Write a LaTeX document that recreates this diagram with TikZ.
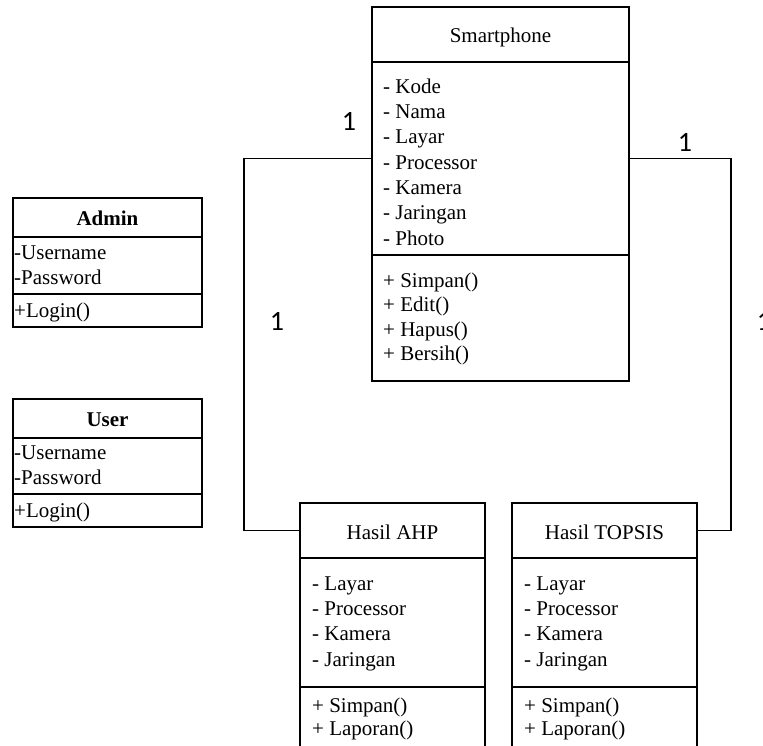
\documentclass[tikz,border=0pt]{standalone}
\usepackage{fontspec}
\setmainfont{Liberation Serif}
\newfontfamily\numfont{Carlito}
\begin{document}
\begin{tikzpicture}[x=1pt,y=-1pt,
  compart/.style={draw, line width=1.5pt, inner sep=0pt, outer sep=0pt, anchor=north west},
  % multi-line lists are placed by the baseline of their last line
  txt/.style={font=\fontsize{21}{25.3}\selectfont, anchor=base west, inner sep=0pt, align=left},
  ttl/.style={font=\fontsize{21}{25}\selectfont, anchor=base, inner sep=0pt},
  mult/.style={font=\numfont\fontsize{28}{30}\selectfont, inner sep=0pt},
  link/.style={draw, line width=1.5pt}]
\useasboundingbox (0,0) rectangle (763,745);
\clip (0,0) rectangle (763,745);

% Admin class
\node[compart, minimum width=189, minimum height=39] (adH) at (13,198) {};
\node[compart, minimum width=189, minimum height=57] (adA) at (13,237) {};
\node[compart, minimum width=189, minimum height=33] (adM) at (13,294) {};
\node[ttl, font=\fontsize{21}{25}\selectfont\bfseries] (adT) at (107.5,225) {Admin};
\node[txt, font=\fontsize{21}{25}\selectfont] (adAt) at (14,284) {-Username\\-Password};
\node[txt] (adMt) at (14,317) {+Login()};

% User class
\node[compart, minimum width=189, minimum height=39] (usH) at (13,399) {};
\node[compart, minimum width=189, minimum height=56] (usA) at (13,438) {};
\node[compart, minimum width=189, minimum height=33] (usM) at (13,494) {};
\node[ttl, font=\fontsize{21}{25}\selectfont\bfseries] (usT) at (107.5,426) {User};
\node[txt, font=\fontsize{21}{25}\selectfont] (usAt) at (14,484) {-Username\\-Password};
\node[txt] (usMt) at (14,517) {+Login()};

% Smartphone class
\node[compart, minimum width=257, minimum height=55] (spH) at (372,7) {};
\node[compart, minimum width=257, minimum height=193] (spA) at (372,62) {};
\node[compart, minimum width=257, minimum height=126] (spM) at (372,255) {};
\node[ttl] (spT) at (500.5,42) {Smartphone};
\node[txt] (spAt) at (383,245) {- Kode\\- Nama\\- Layar\\- Processor\\- Kamera\\- Jaringan\\- Photo};
\node[txt, font=\fontsize{21}{24.5}\selectfont] (spMt) at (383,360.5) {+ Simpan()\\+ Edit()\\+ Hapus()\\+ Bersih()};

% Hasil AHP class
\node[compart, minimum width=185, minimum height=55] (ahH) at (300,503) {};
\node[compart, minimum width=185, minimum height=129] (ahA) at (300,558) {};
\node[compart, minimum width=185, minimum height=80] (ahM) at (300,687) {};
\node[ttl] (ahT) at (392.5,539) {Hasil AHP};
\node[txt] (ahAt) at (312,666) {- Layar\\- Processor\\- Kamera\\- Jaringan};
\node[txt, font=\fontsize{21}{23.5}\selectfont] (ahMt) at (312,735.5) {+ Simpan()\\+ Laporan()};

% Hasil TOPSIS class
\node[compart, minimum width=185, minimum height=55] (toH) at (512,503) {};
\node[compart, minimum width=185, minimum height=129] (toA) at (512,558) {};
\node[compart, minimum width=185, minimum height=80] (toM) at (512,687) {};
\node[ttl] (toT) at (604.5,539) {Hasil TOPSIS};
\node[txt] (toAt) at (524,666) {- Layar\\- Processor\\- Kamera\\- Jaringan};
\node[txt, font=\fontsize{21}{23.5}\selectfont] (toMt) at (524,735.5) {+ Simpan()\\+ Laporan()};

% associations
\coordinate (lbend) at (244,300);
\coordinate (rbend) at (731,300);
\draw[link] (spA.west) -| (lbend) |- (ahH.west);
\draw[link] (spA.east) -| (rbend) |- (toH.east);

% multiplicities
\node[mult] (m1) at (349,121) {1};
\node[mult] (m2) at (685,142) {1};
\node[mult] (m3) at (277,321) {1};
\node[mult] (m4) at (764,321) {1};
\end{tikzpicture}
\end{document}
